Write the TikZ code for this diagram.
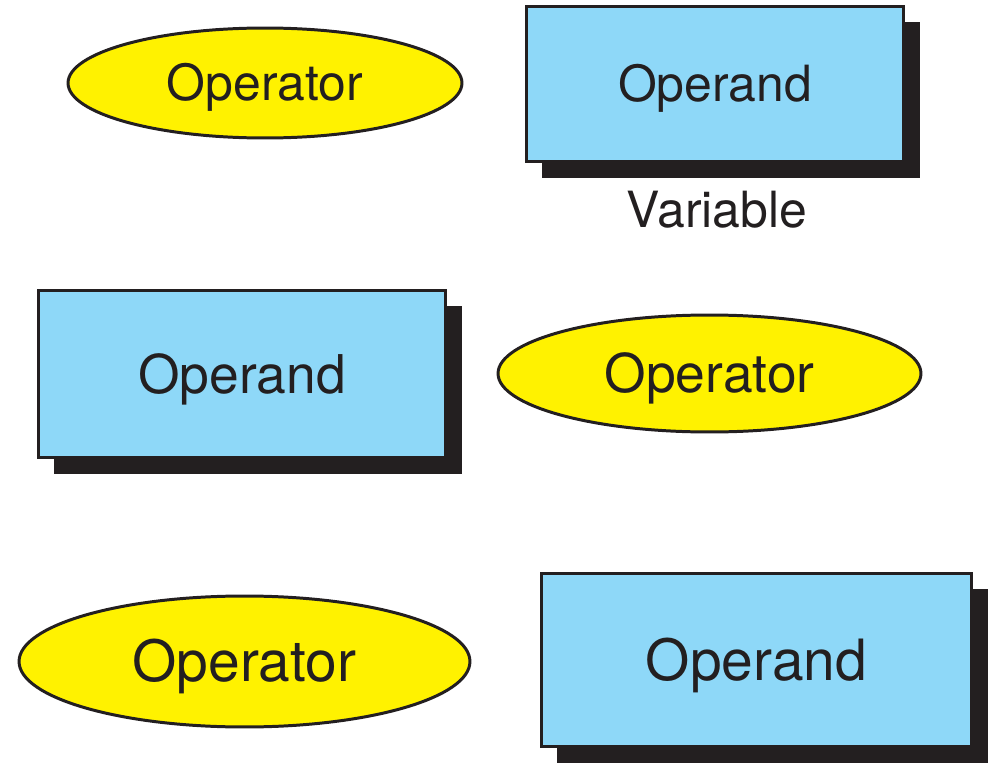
\documentclass[tikz,border=0pt]{standalone}
\usepackage{fontspec}
\setmainfont{TeX Gyre Heros}
\usepackage{xcolor}
\usepackage{tikz}
\usetikzlibrary{shapes.geometric}
\usetikzlibrary{shadows}

\definecolor{opyellow}{HTML}{FFF200}
\definecolor{rdblue}{HTML}{8ED8F8}
\definecolor{inkdark}{HTML}{231F20}

\tikzset{
    optr/.style = {ellipse, draw = inkdark, fill = opyellow, line width = 1.7pt,
        text = inkdark, text depth = 0pt},
    oprd/.style = {rectangle, draw = inkdark, fill = rdblue, line width = 1.7pt,
        text = inkdark, text depth = 0pt,
        drop shadow = {shadow xshift = 0.32cm, shadow yshift = -0.32cm,
            opacity = 1, fill = inkdark}},
    sizeA/.style = {font = \fontsize{28.4}{34}\selectfont, text height = 20.4pt},
    sizeB/.style = {font = \fontsize{30.4}{36}\selectfont, text height = 21.9pt},
    sizeC/.style = {font = \fontsize{32.4}{39}\selectfont, text height = 23.3pt}
}

\begin{document}
\begin{tikzpicture}[x=0.02cm, y=-0.02cm]
        \useasboundingbox (0, 0) rectangle (992, 764);

        % first row
        \node[optr, sizeA, minimum width = 7.88cm, minimum height = 2.2cm] (operator1) at (265, 83) {Operator};
        \node[oprd, sizeA, minimum width = 7.56cm, minimum height = 3.12cm] (operand1) at (715, 84) {Operand};
        \node[sizeA, text = inkdark, text depth = 0pt] (variable) at (717, 210) {Variable};

        % second row
        \node[oprd, sizeB, minimum width = 8.16cm, minimum height = 3.36cm] (operand2) at (242, 374) {Operand};
        \node[optr, sizeB, minimum width = 8.46cm, minimum height = 2.34cm] (operator2) at (709.5, 373.5) {Operator};

        % third row
        \node[optr, sizeC, minimum width = 9.02cm, minimum height = 2.62cm] (operator3) at (244.5, 661.5) {Operator};
        \node[oprd, sizeC, minimum width = 8.62cm, minimum height = 3.48cm] (operand3) at (756.5, 660) {Operand};
    \end{tikzpicture}
\end{document}
